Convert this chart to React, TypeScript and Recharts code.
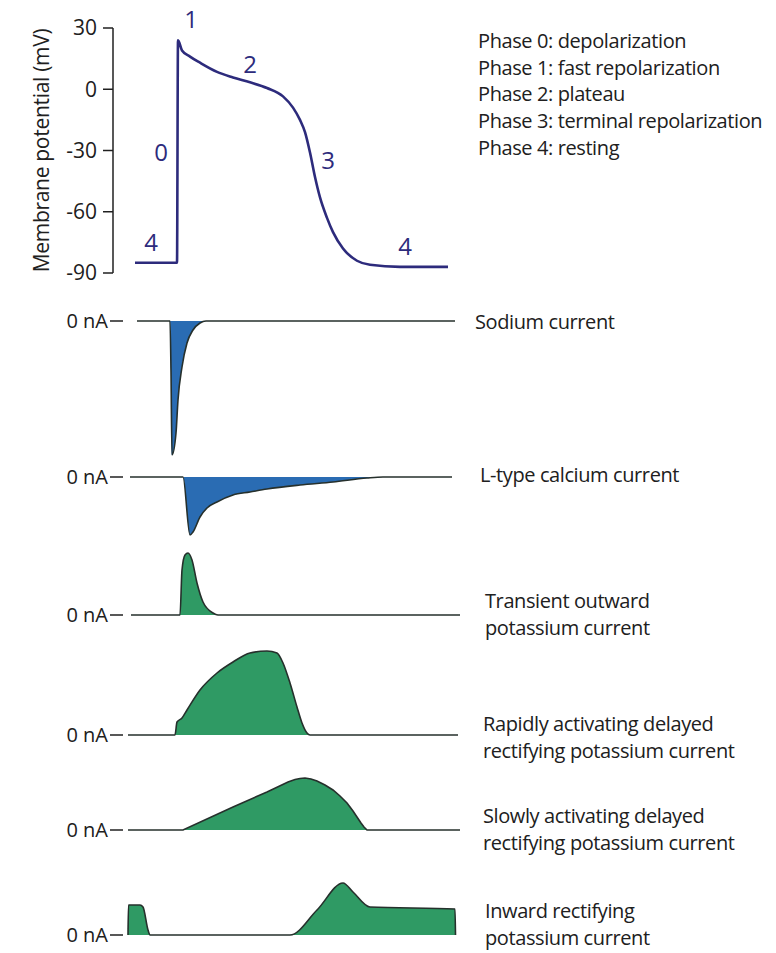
import React from 'react';
import { LineChart, Line, AreaChart, Area, XAxis, YAxis, ReferenceDot, Label } from 'recharts';

const FONT = '"Open Sans", "DejaVu Sans", sans-serif';
const INK = '#202020';
const AP_COLOR = '#2d2b7c';
const BLUE = '#2a6cb3';
const GREEN = '#2f9a64';
const OUTLINE = '#26302c';

// time in ms, shared by all panels
const topTimeDomain = [-15, 332];
const panelTimeDomain = [-5, 332];

// action potential (mV)
const mvTicks = [30, 0, -30, -60, -90];
const apTime = [7, 49, 50, 54, 62, 72, 89, 105, 122, 139, 155, 165, 172, 177, 182, 187, 192, 199, 205, 215, 229, 242, 272, 320];
const apMv = [-85, -85, 24, 19, 16, 13, 8.5, 5.8, 3.4, 0.6, -3.5, -9, -15, -21, -31, -43, -53, -63, -70, -78, -84, -86, -87, -87];

// phase numbers drawn on the trace
const phaseNames = ['1', '2', '0', '3', '4', '4'];
const phaseTime = [63, 122, 33, 200, 23, 277];
const phaseMv = [34, 12, -31, -35, -75, -77];

const phaseLegend = [
  'Phase 0: depolarization',
  'Phase 1: fast repolarization',
  'Phase 2: plateau',
  'Phase 3: terminal repolarization',
  'Phase 4: resting',
];

// ionic currents (arbitrary nA units)
const naTime = [9, 42, 43, 44, 48, 50, 54, 59, 65, 72, 78, 327];
const naCurrent = [0, 0, -50, -134, -112, -79, -46, -22, -9, -2, 0, 0];

const caTime = [2, 55, 62, 65, 72, 79, 89, 105, 122, 139, 172, 205, 239, 255, 324];
const caCurrent = [0, 0, -58, -55, -40, -31, -25, -18, -15, -12, -8, -5, -1, 0, 0];

const itoTime = [3, 52, 54, 57, 60, 64, 69, 75, 85, 90, 332];
const itoCurrent = [0, 0, 45, 60, 62, 55, 32, 13, 2, 0, 0];

const ikrTime = [0, 47, 49, 54, 59, 72, 89, 105, 122, 139, 149, 155, 162, 169, 174, 179, 182, 330];
const ikrCurrent = [0, 0, 13, 17, 25, 45, 62, 73, 82, 84, 82, 72, 52, 28, 12, 2, 0, 0];

const iksTime = [0, 55, 105, 139, 160, 167, 172, 177, 183, 189, 197, 205, 212, 219, 225, 229, 233, 236, 239, 332];
const iksCurrent = [0, 0, 23, 38, 48, 50.5, 51.5, 52, 51, 49, 45, 40, 34, 27, 19, 13, 7, 3, 0, 0];

const ik1Time = [0, 0.5, 12, 15, 20, 22, 162, 189, 215, 225, 242, 327, 327.5];
const ik1Current = [0, 30, 30, 28, 5, 0, 0, 25, 52, 43, 28, 26, 0];

const panels = [
  { name: ['Sodium current'], time: naTime, values: naCurrent, color: BLUE, curve: 'monotone', zeroY: 321, domain: [-140, 14], textX: 475, textY: 329 },
  { name: ['L-type calcium current'], time: caTime, values: caCurrent, color: BLUE, curve: 'monotone', zeroY: 477, domain: [-64, 14], textX: 480, textY: 482 },
  { name: ['Transient outward', 'potassium current'], time: itoTime, values: itoCurrent, color: GREEN, curve: 'monotone', zeroY: 615, domain: [-14, 66], textX: 485, textY: 608 },
  { name: ['Rapidly activating delayed', 'rectifying potassium current'], time: ikrTime, values: ikrCurrent, color: GREEN, curve: 'monotone', zeroY: 735, domain: [-14, 88], textX: 483, textY: 731 },
  { name: ['Slowly activating delayed', 'rectifying potassium current'], time: iksTime, values: iksCurrent, color: GREEN, curve: 'linear', zeroY: 830, domain: [-14, 56], textX: 483, textY: 823 },
  { name: ['Inward rectifying', 'potassium current'], time: ik1Time, values: ik1Current, color: GREEN, curve: 'monotone', zeroY: 935, domain: [-14, 56], textX: 485, textY: 918 },
];

const textStyle = { fill: INK, fontSize: 20, fontFamily: FONT, fontWeight: 500, letterSpacing: -0.4 };

const AxisTitle = ({ viewBox }: any) => {
  const x = viewBox.x + 41;
  const y = viewBox.y + viewBox.height / 2;
  return (
    <text x={x} y={y} transform={`rotate(-90 ${x} ${y})`} textAnchor="middle" dominantBaseline="central"
      fill={INK} fontSize={21} fontFamily={FONT} fontWeight={500} letterSpacing={-0.3}>
      Membrane potential (mV)
    </text>
  );
};

function ActionPotential() {
  const data = apTime.map((t, i) => ({ t, mv: apMv[i] }));
  return (
    <div style={{ position: 'absolute', left: 0, top: 0 }}>
      <LineChart width={470} height={300} data={data} margin={{ top: 28, right: 10, bottom: 27, left: 0 }}>
        <XAxis dataKey="t" type="number" domain={topTimeDomain} hide />
        <YAxis
          type="number"
          domain={[-90, 30]}
          ticks={mvTicks}
          interval={0}
          width={113}
          tickSize={10}
          tickMargin={6}
          axisLine={{ stroke: INK, strokeWidth: 1.5 }}
          tickLine={{ stroke: INK, strokeWidth: 1.5 }}
          tick={{ fill: INK, fontSize: 21, fontFamily: FONT, fontWeight: 500 }}
        >
          <Label content={AxisTitle} />
        </YAxis>
        <Line type="monotone" dataKey="mv" stroke={AP_COLOR} strokeWidth={2.6} dot={false} activeDot={false} isAnimationActive={false} />
        {phaseNames.map((n, i) => (
          <ReferenceDot key={i} x={phaseTime[i]} y={phaseMv[i]} r={0} ifOverflow="visible" stroke="none" fill="none"
            label={{ value: n, position: 'center', fill: AP_COLOR, fontSize: 24, fontFamily: FONT }} />
        ))}
      </LineChart>
    </div>
  );
}

function CurrentPanel({ p }: { p: any }) {
  const data = p.time.map((t: number, i: number) => ({ t, nA: p.values[i] }));
  const height = p.domain[1] - p.domain[0];
  return (
    <div style={{ position: 'absolute', left: 0, top: p.zeroY - p.domain[1] }}>
      <AreaChart width={470} height={height} data={data} margin={{ top: 0, right: 10, bottom: 0, left: 0 }}>
        <XAxis dataKey="t" type="number" domain={panelTimeDomain} hide />
        <YAxis
          type="number"
          domain={p.domain}
          ticks={[0]}
          interval={0}
          tickFormatter={() => '0 nA'}
          width={123}
          axisLine={false}
          tickSize={13}
          tickMargin={2}
          tickLine={{ stroke: INK, strokeWidth: 1.5 }}
          tick={{ fill: INK, fontSize: 20, fontFamily: FONT, fontWeight: 500 }}
        />
        <Area type={p.curve} dataKey="nA" baseValue={0} stroke={OUTLINE} strokeWidth={1.6} fill={p.color} fillOpacity={1}
          dot={false} activeDot={false} isAnimationActive={false} />
      </AreaChart>
    </div>
  );
}

export default function App() {
  return (
    <div style={{ position: 'absolute', left: 0, top: 0, width: 776, height: 953, background: '#fff', overflow: 'hidden' }}>
      <ActionPotential />
      {panels.map((p, i) => <CurrentPanel key={i} p={p} />)}
      <svg width={776} height={953} style={{ position: 'absolute', left: 0, top: 0, pointerEvents: 'none' }}>
        {phaseLegend.map((s, i) => (
          <text key={s} x={478} y={48 + i * 26.7} {...textStyle}>{s}</text>
        ))}
        {panels.map((p, i) =>
          p.name.map((s: string, j: number) => (
            <text key={i + '-' + j} x={p.textX} y={p.textY + j * 26.5} {...textStyle}>{s}</text>
          ))
        )}
      </svg>
    </div>
  );
}
